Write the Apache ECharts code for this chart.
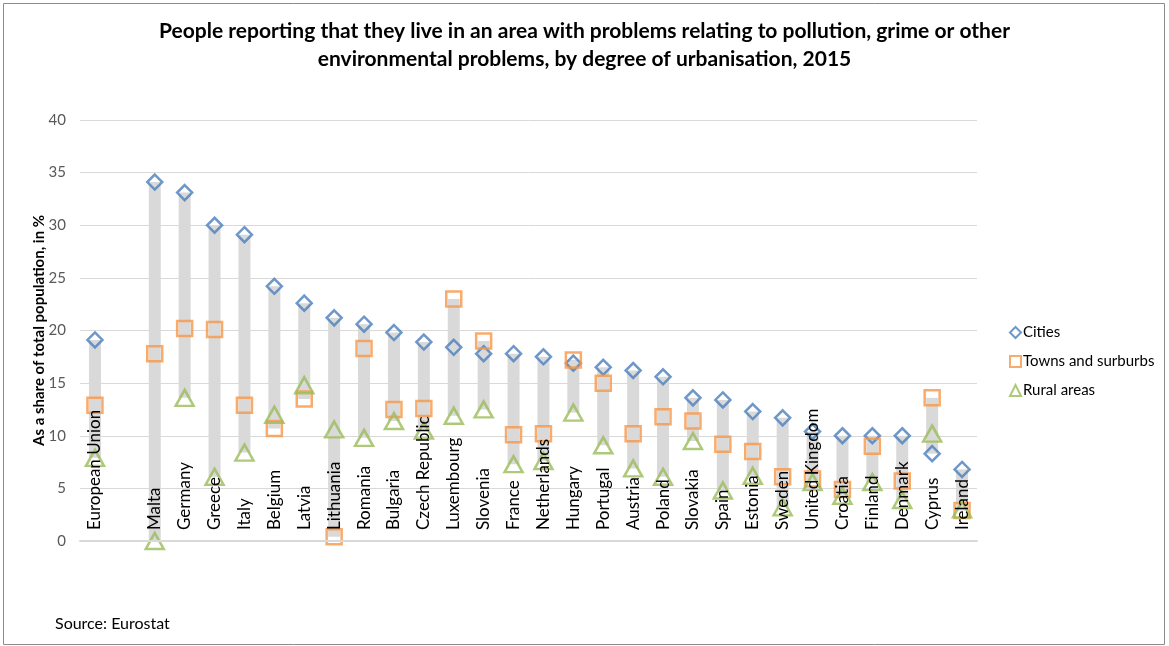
<!DOCTYPE html>
<html>
<head>
<meta charset="utf-8">
<script src="https://cdn.jsdelivr.net/npm/echarts@6/dist/echarts.min.js"></script>
<style>
html,body{margin:0;padding:0;background:#fff;}
#chart{width:1169px;height:646px;}
</style>
</head>
<body>
<div id="chart"></div>
<script>
const categories = ['European Union','','Malta','Germany','Greece','Italy','Belgium','Latvia','Lithuania','Romania','Bulgaria','Czech Republic','Luxembourg','Slovenia','France','Netherlands','Hungary','Portugal','Austria','Poland','Slovakia','Spain','Estonia','Sweden','United Kingdom','Croatia','Finland','Denmark','Cyprus','Ireland'];
const cities = [19.1,null,34.1,33.1,30.0,29.1,24.2,22.6,21.2,20.6,19.8,18.9,18.4,17.8,17.8,17.5,16.9,16.5,16.2,15.6,13.6,13.4,12.3,11.7,10.4,10.0,10.0,10.0,8.3,6.8];
const towns = [12.9,null,17.8,20.2,20.1,12.9,10.7,13.5,0.4,18.3,12.5,12.6,23.0,19.0,10.1,10.2,17.2,15.0,10.2,11.8,11.4,9.2,8.5,6.1,5.9,4.9,9.0,5.7,13.6,2.9];
const rural = [7.9,null,0.0,13.6,6.1,8.4,12.0,14.8,10.6,9.8,11.4,10.5,11.9,12.5,7.3,7.6,12.2,9.1,6.9,6.1,9.5,4.8,6.2,3.2,5.6,4.3,5.6,3.9,10.2,3.0];
const yTicks = [0,5,10,15,20,25,30,35,40];

const lows = categories.map((c,i)=> cities[i]==null ? null : Math.min(cities[i],towns[i],rural[i]));
const spans = categories.map((c,i)=> cities[i]==null ? null : Math.max(cities[i],towns[i],rural[i]) - lows[i]);

const FONT = 'Lato';
const chart = echarts.init(document.getElementById('chart'));
chart.setOption({
  animation:false,
  backgroundColor:'#fff',
  textStyle:{fontFamily:FONT},
  title:{
    text:'People reporting that they live in an area with problems relating to pollution, grime or other\nenvironmental problems, by degree of urbanisation, 2015',
    left:'center', top:12,
    textStyle:{fontFamily:FONT,fontSize:21,fontWeight:'bold',color:'#000',lineHeight:28}
  },
  legend:{
    orient:'vertical', left:1004, top:320, itemGap:14,
    itemWidth:11, itemHeight:11,
    textStyle:{fontFamily:FONT,fontSize:15,color:'#000',padding:[0,0,0,-3]},
    data:['Cities','Towns and surburbs','Rural areas']
  },
  grid:{left:80,right:192,top:120,bottom:105},
  xAxis:{
    type:'category', data:categories, z:10,
    axisLine:{lineStyle:{color:'#d9d9d9',width:2}},
    axisTick:{show:false},
    axisLabel:{inside:true, rotate:90, interval:0, margin:11, fontFamily:FONT, fontSize:17, color:'#000'}
  },
  yAxis:{
    type:'value', min:0, max:40, interval:5,
    name:'As a share of total population, in %',
    nameLocation:'middle', nameGap:33, nameMoveOverlap:false,
    nameTextStyle:{fontFamily:FONT,fontSize:15,fontWeight:'bold',color:'#000'},
    axisLine:{show:false}, axisTick:{show:false},
    axisLabel:{margin:14,fontFamily:FONT,fontSize:15,color:'#595959',
      formatter:(v)=> yTicks.includes(v) ? String(v) : ''},
    splitLine:{lineStyle:{color:'#d9d9d9',width:1}}
  },
  series:[
    {type:'bar',stack:'r',data:lows,barWidth:12,itemStyle:{color:'rgba(0,0,0,0)'},silent:true,legendHoverLink:false},
    {type:'bar',stack:'r',data:spans,barWidth:12,itemStyle:{color:'#d9d9d9'},silent:true},
    {name:'Cities',type:'scatter',data:cities,symbol:'diamond',symbolSize:[15,15],z:5,
      itemStyle:{color:'rgba(255,255,255,0)',borderColor:'#4a7ebb',borderWidth:2.5}},
    {name:'Towns and surburbs',type:'scatter',data:towns,symbol:'rect',symbolSize:[15,15],z:5,
      itemStyle:{color:'rgba(255,255,255,0)',borderColor:'#f79646',borderWidth:2.5}},
    {name:'Rural areas',type:'scatter',data:rural,symbol:'triangle',symbolSize:[18,16],z:5,
      itemStyle:{color:'rgba(255,255,255,0)',borderColor:'#9bbb59',borderWidth:2.5}}
  ],
  graphic:[
    {type:'rect',shape:{x:3.5,y:3.5,width:1161,height:641},style:{fill:'none',stroke:'#8c8c8c',lineWidth:1},silent:true},
    {type:'text',left:55,top:616,style:{text:'Source: Eurostat',fontFamily:FONT,fontSize:16,fill:'#000'}}
  ]
});
</script>
</body>
</html>
